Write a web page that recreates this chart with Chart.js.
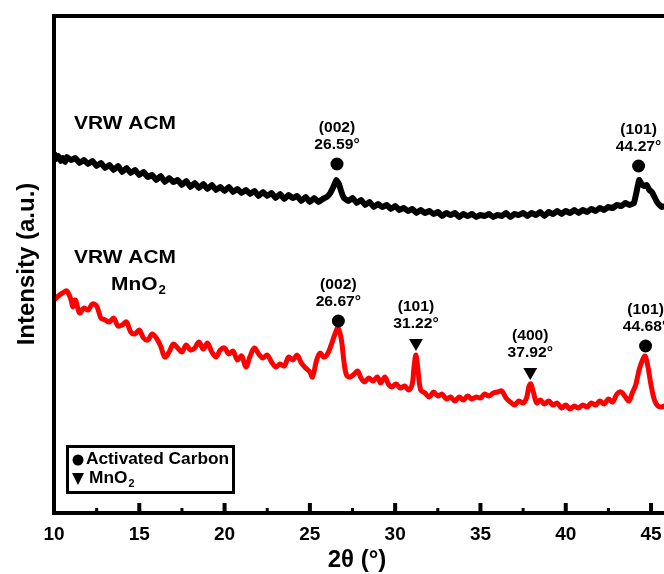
<!DOCTYPE html>
<html>
<head>
<meta charset="utf-8">
<script src="https://cdn.jsdelivr.net/npm/chart.js@4.4.0/dist/chart.umd.min.js"></script>
<style>
  html, body { margin: 0; padding: 0; background: #fff; overflow: hidden; }
  #wrap { width: 664px; height: 574px; position: relative; }
</style>
</head>
<body>
<div id="wrap"><canvas id="xrd"></canvas></div>
<script>
// 2theta (deg) / intensity (a.u.)
const vrwAcm = [
  [10,360],[10.12,354],[10.25,357],[10.4,352],[10.5,355],[10.65,351],[10.75,356],[11,353],[11.25,355],[11.5,350],
  [11.75,353],[12,349],[12.25,352],[12.5,347],[12.75,350],[13,345],[13.25,348],[13.5,343],[13.75,347],[14,341],
  [14.25,345],[14.5,340],[14.75,343],[15,338],[15.25,341],[15.5,336],[15.75,338],[16,333],[16.25,337],[16.5,331],
  [16.75,335],[17,331],[17.25,333],[17.5,328],[17.75,332],[18,326],[18.25,330],[18.5,325],[18.75,329],[19,324],
  [19.25,328],[19.5,323],[19.75,326],[20,322],[20.25,326],[20.5,321],[20.75,324],[21,320],[21.25,323],[21.5,319],
  [21.75,322],[22,317],[22.25,321],[22.5,317],[22.75,320],[23,315],[23.25,319],[23.5,314],[23.75,318],[24,315],
  [24.25,317],[24.5,312],[24.75,316],[25,311],[25.25,315],[25.5,311],[25.75,314],[26,316],[26.2,320],[26.4,327],
  [26.55,333],[26.7,329],[26.85,321],[27,315],[27.25,312],[27.5,315],[27.75,310],[28,313],[28.25,308],[28.5,311],
  [28.75,306],[29,309],[29.25,306],[29.5,308],[29.75,304],[30,307],[30.25,303],[30.5,305],[30.75,302],[31,304],
  [31.25,300],[31.5,303],[31.75,300],[32,302],[32.25,299],[32.5,301],[32.75,297],[33,300],[33.25,298],[33.5,300],
  [33.75,296],[34,299],[34.25,297],[34.5,299],[34.75,296],[35,298],[35.25,297],[35.5,299],[35.75,296],[36,298],
  [36.25,297],[36.5,300],[36.75,296],[37,299],[37.25,298],[37.5,300],[37.75,297],[38,300],[38.25,298],[38.5,301],
  [38.75,297],[39,301],[39.25,299],[39.5,302],[39.75,299],[40,302],[40.25,300],[40.5,303],[40.75,300],[41,303],
  [41.25,301],[41.5,304],[41.75,302],[42,305],[42.25,303],[42.5,306],[42.75,305],[43,308],[43.25,307],[43.5,310],
  [43.75,308],[44,310],[44.15,321],[44.3,333],[44.45,329],[44.6,327],[44.75,328],[44.9,323],[45.05,321],[45.2,316],
  [45.35,311],[45.5,308],[45.65,306],[45.8,307]
];

const vrwAcmMnO2 = [
  [10,213],[10.25,217],[10.5,220],[10.75,222],[11,213],[11.1,206],[11.25,213],[11.5,200],[11.75,205],[12,203],
  [12.25,209],[12.5,207],[12.75,195],[13,193],[13.25,191],[13.5,195],[13.75,187],[14,188],[14.25,191],[14.5,181],
  [14.75,179],[15,183],[15.25,175],[15.5,173],[15.75,179],[16,175],[16.25,167],[16.5,156],[16.75,161],[17,169],
  [17.25,165],[17.5,161],[17.75,168],[18,163],[18.25,165],[18.5,171],[18.75,164],[19,170],[19.25,161],[19.5,156],
  [19.75,163],[20,165],[20.25,159],[20.5,162],[20.75,153],[21,157],[21.25,146],[21.5,157],[21.75,165],[22,159],
  [22.25,155],[22.5,158],[22.75,151],[23,146],[23.25,149],[23.5,147],[23.75,156],[24,153],[24.25,158],[24.5,150],
  [24.75,145],[25,141],[25.15,136],[25.4,153],[25.6,160],[25.8,156],[26,158],[26.25,168],[26.45,178],[26.65,185],
  [26.85,173],[27,151],[27.15,138],[27.35,136],[27.6,139],[27.8,142],[28,135],[28.2,131],[28.45,135],[28.7,132],
  [28.95,136],[29.15,130],[29.4,136],[29.6,129],[29.8,126],[30.05,129],[30.3,125],[30.55,127],[30.8,123],[31,129],
  [31.1,145],[31.22,158],[31.35,141],[31.5,123],[31.75,120],[32,116],[32.25,121],[32.5,117],[32.75,119],[33,114],
  [33.25,116],[33.5,112],[33.75,116],[34,113],[34.25,117],[34.5,114],[34.75,116],[35,115],[35.25,119],[35.5,117],
  [35.75,120],[36,121],[36.25,122],[36.5,115],[36.75,111],[37,108],[37.25,112],[37.5,110],[37.7,115],[37.85,127],
  [37.95,129],[38.1,121],[38.3,110],[38.5,113],[38.75,109],[39,112],[39.25,108],[39.5,110],[39.75,105],[40,108],
  [40.25,104],[40.5,107],[40.75,105],[41,108],[41.25,106],[41.5,110],[41.75,108],[42,112],[42.25,109],[42.5,114],
  [42.75,111],[43,119],[43.25,121],[43.5,116],[43.7,112],[43.9,120],[44.1,128],[44.3,143],[44.5,153],[44.65,157],
  [44.8,148],[45,128],[45.2,113],[45.4,107],[45.6,106],[45.8,107]
];

// peak markers: [2theta, marker height, hkl]
const carbonPeaks = [[26.59, 349, '(002)'], [44.27, 347, '(101)'], [26.67, 192, '(002)'], [44.68, 167, '(101)']];
const mno2Peaks = [[31.22, 170, '(101)'], [37.92, 141, '(400)']];

const xTicks = [10, 15, 20, 25, 30, 35, 40, 45];
const minorTicks = [12.5, 17.5, 22.5, 27.5, 32.5, 37.5, 42.5];

const FONT = "'Liberation Sans', Arial, sans-serif";

function txt(ctx, s, x, y, size, align, sx) {
  ctx.save();
  ctx.translate(x, y);
  ctx.scale(sx || 1, 1);
  ctx.font = 'bold ' + size + 'px ' + FONT;
  ctx.textAlign = align || 'center';
  ctx.textBaseline = 'middle';
  ctx.fillStyle = '#000';
  ctx.fillText(s, 0, 0);
  ctx.restore();
}

// "MnO" + subscript 2
function mno2(ctx, x, y, size, sx, align) {
  ctx.save();
  ctx.font = 'bold ' + size + 'px ' + FONT;
  const w1 = ctx.measureText('MnO').width * sx;
  ctx.font = 'bold ' + Math.round(size * 0.65) + 'px ' + FONT;
  const w2 = ctx.measureText('2').width * sx;
  ctx.restore();
  const x0 = align === 'left' ? x : x - (w1 + w2) / 2;
  txt(ctx, 'MnO', x0, y, size, 'left', sx);
  txt(ctx, '2', x0 + w1 + 1, y + size * 0.3, Math.round(size * 0.65), 'left', sx);
}

const decorations = {
  id: 'decorations',
  afterDatasetsDraw(chart) {
    const { ctx, chartArea: a, scales: { x, y } } = chart;
    ctx.save();
    ctx.strokeStyle = '#000';
    ctx.lineWidth = 4;
    ctx.lineCap = 'square';
    ctx.beginPath();
    ctx.moveTo(a.left, a.bottom);
    ctx.lineTo(a.left, a.top);
    ctx.lineTo(chart.width + 5, a.top);
    ctx.moveTo(a.left, a.bottom);
    ctx.lineTo(chart.width + 5, a.bottom);
    ctx.stroke();
    ctx.lineCap = 'butt';
    xTicks.forEach(v => {
      const px = x.getPixelForValue(v);
      ctx.lineWidth = 4;
      ctx.beginPath(); ctx.moveTo(px, a.bottom); ctx.lineTo(px, a.bottom - 10); ctx.stroke();
    });
    minorTicks.forEach(v => {
      const px = x.getPixelForValue(v);
      ctx.lineWidth = 3;
      ctx.beginPath(); ctx.moveTo(px, a.bottom); ctx.lineTo(px, a.bottom - 5); ctx.stroke();
    });
    ctx.restore();

    // peak annotations
    carbonPeaks.concat(mno2Peaks).forEach(p => {
      const px = x.getPixelForValue(p[0]);
      const py = y.getPixelForValue(p[1]);
      txt(ctx, p[2], px, py - 36, 14.5, 'center', 1.08);
      txt(ctx, p[0].toFixed(2) + '°', px, py - 19, 14.5, 'center', 1.08);
    });

    // sample names
    txt(ctx, 'VRW ACM', 125, 124, 19, 'center', 1.1);
    txt(ctx, 'VRW ACM', 125, 258, 19, 'center', 1.1);
    mno2(ctx, 138, 285, 19, 1.1, 'center');

    // legend
    ctx.save();
    ctx.strokeStyle = '#000';
    ctx.lineWidth = 3;
    ctx.strokeRect(67.5, 446.5, 166, 46);
    ctx.fillStyle = '#000';
    ctx.beginPath(); ctx.arc(78, 460, 5.5, 0, Math.PI * 2); ctx.fill();
    ctx.beginPath(); ctx.moveTo(72, 473); ctx.lineTo(84, 473); ctx.lineTo(78, 485); ctx.closePath(); ctx.fill();
    ctx.restore();
    txt(ctx, 'Activated Carbon', 86, 460, 16, 'left', 1.08);
    mno2(ctx, 89, 479, 16, 1.08, 'left');

    // axis titles
    txt(ctx, '2θ (°)', 357, 560, 24, 'center', 1);
    ctx.save();
    ctx.translate(27, 264);
    ctx.rotate(-Math.PI / 2);
    txt(ctx, 'Intensity (a.u.)', 0, 0, 24, 'center', 1);
    ctx.restore();
  }
};

const toPts = arr => arr.map(p => ({ x: p[0], y: p[1] }));

new Chart(document.getElementById('xrd'), {
  type: 'line',
  data: {
    datasets: [
      {
        type: 'scatter', data: carbonPeaks.map(p => ({ x: p[0], y: p[1] })),
        pointStyle: 'circle', pointRadius: 6.5, backgroundColor: '#000', borderWidth: 0
      },
      {
        type: 'scatter', data: mno2Peaks.map(p => ({ x: p[0], y: p[1] })),
        pointStyle: 'triangle', pointRotation: 180, pointRadius: 8, backgroundColor: '#000', borderWidth: 0
      },
      {
        label: 'VRW ACM', data: toPts(vrwAcm), borderColor: '#000', borderWidth: 6,
        borderJoinStyle: 'round', pointRadius: 0, tension: 0.1, fill: false
      },
      {
        label: 'VRW ACM MnO2', data: toPts(vrwAcmMnO2), borderColor: '#ff0000', borderWidth: 5,
        borderJoinStyle: 'round', pointRadius: 0, tension: 0.35, fill: false
      }
    ]
  },
  options: {
    responsive: true,
    maintainAspectRatio: false,
    animation: false,
    layout: { autoPadding: false, padding: { top: 16, left: 0, right: 0, bottom: 0 } },
    plugins: { legend: { display: false }, tooltip: { enabled: false } },
    scales: {
      x: {
        type: 'linear', min: 10, max: 45.76,
        grid: { display: false, drawTicks: false },
        border: { display: false },
        ticks: {
          stepSize: 5, includeBounds: false, autoSkip: false, maxRotation: 0, padding: 10,
          color: '#000', font: { family: FONT, size: 19, weight: 'bold' }
        },
        afterFit(scale) { scale.height = 61; scale.paddingLeft = 0; scale.paddingRight = 0; }
      },
      y: {
        min: 0, max: 497,
        grid: { display: false, drawTicks: false },
        border: { display: false },
        ticks: { display: false },
        afterFit(scale) { scale.width = 54; }
      }
    }
  },
  plugins: [decorations]
});
</script>
</body>
</html>
